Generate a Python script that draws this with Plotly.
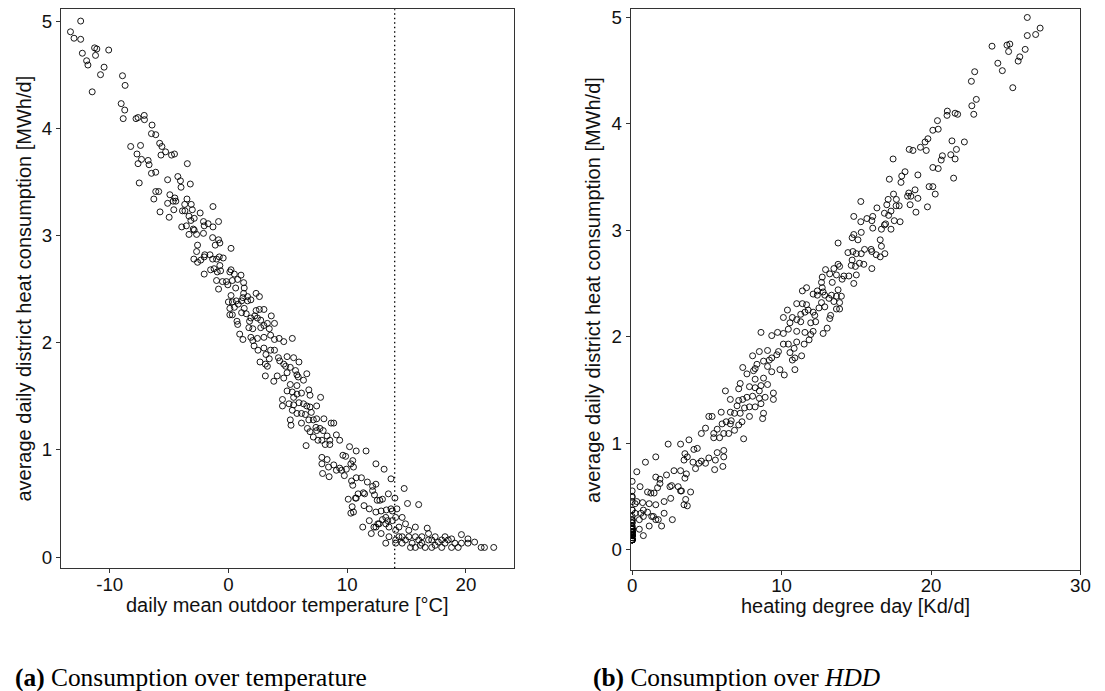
import plotly.graph_objects as go

# daily records: mean outdoor temperature [°C],
# heating degree day [Kd/d] and average district heat consumption [MWh/d]
temp = [
    -12.44, -13.30, -13.00, -12.44, -11.27, -11.08, -10.08, -12.30, -11.19, -11.94,
    -11.83, -10.47, -10.77, -8.92, -8.70, -11.47, -9.03, -8.73, -8.86, -7.78,
    -7.61, -7.09, -7.07, -6.43, -6.48, -6.12, -8.23, -7.40, -5.79, -5.60,
    -5.29, -5.68, -4.79, -4.54, -7.70, -7.32, -6.76, -7.61, -6.68, -3.46,
    -6.48, -6.12, -5.12, -4.26, -4.04, -3.21, -3.99, -7.51, -6.12, -5.87,
    -6.28, -4.93, -4.51, -5.12, -4.65, -4.43, -3.49, -3.68, -3.13, -1.30,
    -5.76, -4.99, -4.60, -3.87, -3.66, -3.04, -2.38, -3.32, -3.16, -2.88,
    -3.93, -3.54, -3.32, -2.68, -2.96, -2.88, -2.10, -2.04, -1.71, -1.30,
    -0.83, -2.10, -1.33, -0.83, -0.72, -1.11, 0.22, -2.60, -2.68, -2.91,
    -2.60, -2.33, -2.04, -1.99, -1.55, -1.33, -1.00, -0.77, -0.44, -1.50,
    -1.21, -0.94, -0.66, -0.72, -2.04, 0.22, 0.12, 0.50, 1.06, -1.00,
    -0.50, -0.17, -0.05, -0.83, 0.33, 0.78, 1.28, 1.33, 0.61, 1.28,
    1.22, 1.61, 2.33, 2.61, 0.22, 0.00, 0.33, 0.66, 0.83, 0.12,
    0.50, 0.12, 0.33, 1.11, 1.61, 1.89, 1.33, 1.11, 1.50, 1.89,
    2.22, 2.44, 2.33, 2.61, 2.99, 0.72, 0.78, 1.78, 1.72, 2.05,
    2.72, 2.99, 3.28, 3.61, 3.88, 2.72, 3.44, 0.95, 1.22, 1.89,
    2.05, 2.44, 2.99, 3.55, 3.88, 4.27, 5.38, 2.16, 2.49, 2.99,
    3.55, 3.88, 3.16, 4.66, 2.66, 3.11, 3.44, 3.28, 4.21, 4.32,
    4.94, 4.66, 5.49, 5.94, 4.82, 5.21, 5.65, 5.88,
    3.11, 3.82, 4.11, 4.66, 4.94, 5.77, 6.60, 5.21, 5.77, 6.32,
    4.94, 5.38, 5.77, 6.15, 6.77, 6.87, 7.76, 5.49, 4.55, 4.55,
    5.10, 5.49, 5.94, 6.32, 6.60, 6.87, 7.43, 5.38, 5.77, 6.15,
    6.48, 6.98, 6.77, 7.15, 7.43, 8.04, 7.37, 5.21, 5.27, 6.15,
    8.65, 8.87, 6.65, 6.87, 7.43, 7.71, 7.98, 7.15, 7.54, 7.87,
    8.31, 8.54, 9.09, 9.37, 8.15, 8.54, 6.54, 10.20, 10.76, 11.59,
    9.64, 9.87, 10.47, 10.31, 10.53, 7.87, 8.31, 7.87, 8.43, 8.87,
    7.93, 8.48, 9.09, 9.53, 9.76, 9.93, 9.37, 12.42, 13.11, 13.69,
    10.37, 10.47, 10.76, 11.20, 11.70, 12.14, 12.42, 10.09, 10.42, 10.31,
    10.53, 10.76, 10.92, 11.36, 11.47, 10.70, 11.42, 12.14, 12.30, 12.53,
    12.75, 12.97, 13.47, 14.02, 14.80, 15.08, 16.02, 11.86, 12.42, 12.86,
    13.30, 13.69, 14.19, 11.31, 11.86, 12.03, 12.25, 12.58, 12.97, 12.86,
    13.25, 13.52, 13.80, 14.08, 14.36, 14.63, 14.91, 15.19, 15.74, 14.63,
    13.25, 13.52, 14.08, 14.36, 14.91, 15.19, 15.47, 15.74, 16.02, 16.29,
    16.74, 16.85, 17.12, 17.41, 17.96, 18.24, 18.51, 19.07, 19.62, 20.17,
    20.73, 21.28, 21.56, 22.34, 15.74, 16.29, 16.57, 17.41, 17.68, 18.79,
    19.35, 19.62, 13.41, 13.80, 14.08, 13.25, 12.69, 12.42, 14.63, 15.33,
    14.08, 16.16, 17.12, 18.24, 16.85, 17.96, 18.79, 20.17,
]

hdd = [
    26.44, 27.30, 27.00, 26.44, 25.27, 25.08, 24.08, 26.30, 25.19, 25.94,
    25.83, 24.47, 24.77, 22.92, 22.70, 25.47, 23.03, 22.73, 22.86, 21.78,
    21.61, 21.09, 21.07, 20.43, 20.48, 20.12, 22.23, 21.40, 19.79, 19.60,
    19.29, 19.68, 18.79, 18.54, 21.70, 21.32, 20.76, 21.61, 20.68, 17.46,
    20.48, 20.12, 19.12, 18.26, 18.04, 17.21, 17.99, 21.51, 20.12, 19.87,
    20.28, 18.93, 18.51, 19.12, 18.65, 18.43, 17.49, 17.68, 17.13, 15.30,
    19.76, 18.99, 18.60, 17.87, 17.66, 17.04, 16.38, 17.32, 17.16, 16.88,
    17.93, 17.54, 17.32, 16.68, 16.96, 16.88, 16.10, 16.04, 15.71, 15.30,
    14.83, 16.10, 15.33, 14.83, 14.72, 15.11, 13.78, 16.60, 16.68, 16.91,
    16.60, 16.33, 16.04, 15.99, 15.55, 15.33, 15.00, 14.77, 14.44, 15.50,
    15.21, 14.94, 14.66, 14.72, 16.04, 13.78, 13.88, 13.50, 12.94, 15.00,
    14.50, 14.17, 14.05, 14.83, 13.67, 13.22, 12.72, 12.67, 13.39, 12.72,
    12.78, 12.39, 11.67, 11.39, 13.78, 14.00, 13.67, 13.34, 13.17, 13.88,
    13.50, 13.88, 13.67, 12.89, 12.39, 12.11, 12.67, 12.89, 12.50, 12.11,
    11.78, 11.56, 11.67, 11.39, 11.01, 13.28, 13.22, 12.22, 12.28, 11.95,
    11.28, 11.01, 10.72, 10.39, 10.12, 11.28, 10.56, 13.05, 12.78, 12.11,
    11.95, 11.56, 11.01, 10.45, 10.12, 9.73, 8.62, 11.84, 11.51, 11.01,
    10.45, 10.12, 10.84, 9.34, 11.34, 10.89, 10.56, 10.72, 9.79, 9.68,
    9.06, 9.34, 8.51, 8.06, 9.18, 8.79, 8.35, 8.12,
    10.89, 10.18, 9.89, 9.34, 9.06, 8.23, 7.40, 8.79, 8.23, 7.68,
    9.06, 8.62, 8.23, 7.85, 7.23, 7.13, 6.24, 8.51, 9.45, 9.45,
    8.90, 8.51, 8.06, 7.68, 7.40, 7.13, 6.57, 8.62, 8.23, 7.85,
    7.52, 7.02, 7.23, 6.85, 6.57, 5.96, 6.63, 8.79, 8.73, 7.85,
    5.35, 5.13, 7.35, 7.13, 6.57, 6.29, 6.02, 6.85, 6.46, 6.13,
    5.69, 5.46, 4.91, 4.63, 5.85, 5.46, 7.46, 3.80, 3.24, 2.41,
    4.36, 4.13, 3.53, 3.69, 3.47, 6.13, 5.69, 6.13, 5.57, 5.13,
    6.07, 5.52, 4.91, 4.47, 4.24, 4.07, 4.63, 1.58, 0.89, 0.31,
    3.63, 3.53, 3.24, 2.80, 2.30, 1.86, 1.58, 3.91, 3.58, 3.69,
    3.47, 3.24, 3.08, 2.64, 2.53, 3.30, 2.58, 1.86, 1.70, 1.47,
    1.25, 1.03, 0.53, 0, 0, 0, 0, 2.14, 1.58, 1.14,
    0.70, 0.31, 0, 2.69, 2.14, 1.97, 1.75, 1.42, 1.03, 1.14,
    0.75, 0.48, 0.20, 0, 0, 0, 0, 0, 0, 0,
    0.75, 0.48, 0, 0, 0, 0, 0, 0, 0, 0,
    0, 0, 0, 0, 0, 0, 0, 0, 0, 0,
    0, 0, 0, 0, 0, 0, 0, 0, 0, 0,
    0, 0, 0.59, 0.20, 0, 0.75, 1.31, 1.58, 0, 0,
    0, 0, 0, 0, 0, 0, 0, 0,
]

consumption = [
    5.00, 4.90, 4.84, 4.83, 4.75, 4.74, 4.73, 4.70, 4.68, 4.63,
    4.59, 4.57, 4.50, 4.49, 4.40, 4.34, 4.23, 4.17, 4.09, 4.09,
    4.10, 4.12, 4.08, 4.03, 3.95, 3.94, 3.83, 3.84, 3.86, 3.83,
    3.78, 3.75, 3.75, 3.76, 3.76, 3.71, 3.70, 3.67, 3.66, 3.67,
    3.58, 3.59, 3.52, 3.55, 3.51, 3.48, 3.45, 3.49, 3.41, 3.41,
    3.34, 3.38, 3.35, 3.30, 3.32, 3.32, 3.34, 3.29, 3.29, 3.27,
    3.22, 3.17, 3.24, 3.23, 3.23, 3.24, 3.21, 3.18, 3.14, 3.16,
    3.08, 3.09, 3.01, 3.01, 3.06, 3.05, 3.13, 3.09, 3.11, 3.08,
    3.13, 3.02, 2.98, 2.96, 2.93, 2.91, 2.88, 2.91, 2.85, 2.78,
    2.75, 2.77, 2.80, 2.82, 2.82, 2.78, 2.78, 2.80, 2.79, 2.68,
    2.69, 2.66, 2.67, 2.72, 2.64, 2.68, 2.66, 2.64, 2.63, 2.58,
    2.57, 2.57, 2.54, 2.50, 2.58, 2.59, 2.56, 2.51, 2.51, 2.46,
    2.42, 2.43, 2.46, 2.43, 2.44, 2.38, 2.38, 2.39, 2.36, 2.32,
    2.33, 2.26, 2.26, 2.39, 2.39, 2.40, 2.32, 2.28, 2.27, 2.23,
    2.25, 2.23, 2.30, 2.31, 2.31, 2.20, 2.17, 2.20, 2.14, 2.13,
    2.21, 2.16, 2.18, 2.25, 2.18, 2.14, 2.13, 2.08, 2.03, 2.05,
    2.02, 2.04, 2.05, 2.07, 2.03, 2.04, 2.04, 1.97, 1.93, 1.95,
    1.93, 1.93, 1.89, 2.01, 1.82, 1.80, 1.85, 1.78, 1.86, 1.83,
    1.87, 1.80, 1.86, 1.82, 1.78, 1.77, 1.74, 1.68,
    1.69, 1.64, 1.69, 1.67, 1.72, 1.70, 1.71, 1.61, 1.60, 1.65,
    1.55, 1.54, 1.52, 1.53, 1.56, 1.51, 1.49, 1.49, 1.47, 1.41,
    1.43, 1.42, 1.44, 1.43, 1.41, 1.40, 1.41, 1.37, 1.34, 1.34,
    1.33, 1.35, 1.28, 1.28, 1.29, 1.29, 1.21, 1.28, 1.23, 1.25,
    1.25, 1.25, 1.20, 1.17, 1.18, 1.20, 1.18, 1.12, 1.09, 1.09,
    1.13, 1.09, 1.14, 1.09, 1.05, 1.05, 1.04, 1.03, 0.99, 0.99,
    0.95, 0.94, 0.90, 0.87, 0.84, 0.93, 0.91, 0.87, 0.84, 0.86,
    0.78, 0.75, 0.81, 0.81, 0.76, 0.82, 0.83, 0.87, 0.82, 0.73,
    0.71, 0.67, 0.74, 0.74, 0.70, 0.66, 0.68, 0.54, 0.47, 0.41,
    0.42, 0.55, 0.59, 0.60, 0.59, 0.55, 0.48, 0.62, 0.58, 0.53,
    0.53, 0.54, 0.59, 0.55, 0.64, 0.50, 0.49, 0.45, 0.42, 0.43,
    0.44, 0.45, 0.45, 0.28, 0.34, 0.22, 0.28, 0.31, 0.35, 0.22,
    0.31, 0.28, 0.34, 0.25, 0.28, 0.37, 0.31, 0.25, 0.28, 0.19,
    0.13, 0.19, 0.16, 0.19, 0.16, 0.19, 0.13, 0.19, 0.16, 0.13,
    0.27, 0.22, 0.16, 0.19, 0.16, 0.13, 0.16, 0.13, 0.21, 0.13,
    0.14, 0.09, 0.09, 0.09, 0.09, 0.19, 0.09, 0.11, 0.14, 0.09,
    0.09, 0.13, 0.34, 0.43, 0.37, 0.37, 0.31, 0.28, 0.13, 0.09,
    0.13, 0.11, 0.09, 0.19, 0.16, 0.09, 0.17, 0.17,
]

temp_ticks = [-10, 0, 10, 20]
hdd_ticks = [0, 10, 20, 30]
cons_ticks = [0, 1, 2, 3, 4, 5]
heating_limit = 14  # dotted line in panel (a)

assert len(temp) == len(hdd) == len(consumption)

W, H = 1105, 691
sans = "Liberation Sans, Arial, sans-serif"
serif = "Liberation Serif, Times New Roman, serif"
dark = "#333333"

marker = dict(symbol="circle-open", size=6, color="black", line=dict(width=0.9))

fig = go.Figure()
fig.add_trace(go.Scatter(x=temp, y=consumption, mode="markers", marker=marker,
                         xaxis="x", yaxis="y", showlegend=False))
fig.add_trace(go.Scatter(x=hdd, y=consumption, mode="markers", marker=marker,
                         xaxis="x2", yaxis="y2", showlegend=False))

ax = dict(showline=True, linecolor=dark, linewidth=1, mirror=True,
          ticks="outside", ticklen=4, tickcolor=dark, showgrid=False,
          zeroline=False, tickfont=dict(family=sans, size=18.7, color="#111"))
xax = dict(ax, ticklabelstandoff=-5)

# plot areas in pixels, converted to paper fractions
a_l, a_r, a_t, a_b = 57.7, 516.7, 7.3, 568.0
b_l, b_r, b_t, b_b = 634.7, 1090.3, 7.3, 569.3

fig.update_layout(
    width=W, height=H, margin=dict(l=0, r=0, t=0, b=0),
    paper_bgcolor="white", plot_bgcolor="white",
    xaxis=dict(xax, domain=[a_l / W, a_r / W], range=[-14.1, 24.06],
               tickvals=temp_ticks, ticktext=[str(v) for v in temp_ticks], anchor="y"),
    yaxis=dict(ax, domain=[1 - a_b / H, 1 - a_t / H], range=[-0.105, 5.11],
               tickvals=cons_ticks, anchor="x"),
    xaxis2=dict(xax, domain=[b_l / W, b_r / W], range=[-0.1, 30.0],
                tickvals=hdd_ticks, ticktext=[str(v) for v in hdd_ticks], anchor="y2"),
    yaxis2=dict(ax, domain=[1 - b_b / H, 1 - b_t / H], range=[-0.19, 5.077],
                tickvals=cons_ticks, anchor="x2"),
)

fig.add_shape(type="line", xref="x", yref="y domain", x0=heating_limit, x1=heating_limit,
              y0=0, y1=1, line=dict(color="black", width=1.3, dash="1.5px,3px"))

title_font = dict(family=sans, size=20, color="#111")
ytitle = "average daily district heat consumption [MWh/d]"
fig.add_annotation(text=ytitle, xref="paper", yref="paper", x=20 / W,
                   y=1 - (a_t + a_b) / 2 / H, textangle=-90, showarrow=False,
                   font=title_font, xanchor="center", yanchor="middle")
fig.add_annotation(text=ytitle, xref="paper", yref="paper", x=597 / W,
                   y=1 - (b_t + b_b) / 2 / H, textangle=-90, showarrow=False,
                   font=title_font, xanchor="center", yanchor="middle")
fig.add_annotation(text="daily mean outdoor temperature [°C]", xref="paper", yref="paper",
                   x=(a_l + a_r) / 2 / W, y=1 - 605 / H, showarrow=False,
                   font=title_font, xanchor="center", yanchor="middle")
fig.add_annotation(text="heating degree day [Kd/d]", xref="paper", yref="paper",
                   x=(b_l + b_r) / 2 / W, y=1 - 606 / H, showarrow=False,
                   font=title_font, xanchor="center", yanchor="middle")

cap_font = dict(family=serif, size=25.4, color="black")
fig.add_annotation(text="<b>(a)</b> Consumption over temperature", xref="paper", yref="paper",
                   x=9 / W, y=1 - 677 / H, showarrow=False, font=cap_font,
                   xanchor="left", yanchor="middle")
fig.add_annotation(text="<b>(b)</b> Consumption over <i>HDD</i>", xref="paper", yref="paper",
                   x=595 / W, y=1 - 677 / H, showarrow=False, font=cap_font,
                   xanchor="left", yanchor="middle")

# drop the browser's default body margin so the 1105x691 figure fills the window
fig.write_html("out.html", config={"displayModeBar": False},
               post_script="document.body.style.margin='0px';")
